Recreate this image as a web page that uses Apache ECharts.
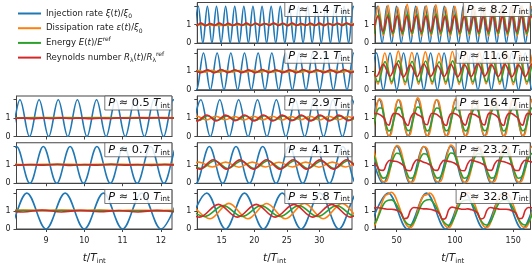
<!DOCTYPE html>
<html><head><meta charset="utf-8">
<script src="https://cdn.jsdelivr.net/npm/echarts@6/dist/echarts.min.js"></script>
<style>html,body{margin:0;padding:0;background:#fff}#c{width:532px;height:266px}</style>
</head><body><div id="c"></div>
<script>
// ---------------- DATA ----------------
const periodLabels = ['0.5','0.7','1.0','1.4','2.1','2.9','4.1','5.8','8.2','11.6','16.4','23.2','32.8'];
const colRange = [[8.23,12.29],[11.25,35.02],[31.4,164.8]];
const colTicks = [[9,10,11,12],[15,20,25,30],[50,100,150]];
const yTicks = [0,1,2];
const yLabels = [0,1];
// sampling of each series (start time, time step) per panel: [inj, dis, ene, rey]
const sampleStart = [
  [7.82,7.9,7.9,7.9],[7.88,7.9,7.9,7.9],[7.5,7.9,7.9,7.9],
  [10.7,10.5,10.5,10.4],[10.1,10.35,10.8,10.7],[10.35,9.75,10.0,9.8],[9.0,9.45,9.8,9.6],[9.8,10.3,9.45,8.7],
  [29.3,30.3,30.5,29.9],[26.9,28.2,28.4,26.9],[26.9,28.95,28.95,28.95],[26.8,26.8,26.8,26.8],[26.4,29.1333,29.1333,29.1333]
];
const sampleStep = [
  [0.25,0.5,0.5,0.25],[0.35,0.7,0.7,0.35],[0.5,0.5,0.5,0.5],
  [0.7,2.0,0.7,0.7],[1.05,1.05,1.05,1.05],[1.45,1.45,1.45,1.45],[2.05,2.05,2.05,2.05],[2.9,2.9,2.9,2.9],
  [4.1,4.1,4.1,4.1],[5.8,5.8,5.8,5.8],[8.2,2.05,2.05,2.05],[11.6,2.9,2.9,2.9],[16.4,2.7333,2.7333,2.7333]
];

const inj05=[2,0,2,0,2,0,2,0,2,0,2,0,2,0,2,0,2,0,2,0];
const dis05=[1.03,1.02,1.03,1.03,1.02,1.03,1.02,1.03,1.03,1.02,1.03];
const ene05=[1.01,1.0,1.01,1.0,1.01,1.0,1.01,1.0,1.01,1.0,1.01];
const rey05=[1.0,0.98,1.0,0.97,1.0,0.98,1.01,0.98,1.0,0.97,0.99,0.98,1.01,0.99,1.02,1.0,1.02,1.0,1.01,0.99];

const inj07=[0,2,0,2,0,2,0,2,0,2,0,2,0,2,0];
const dis07=[1.03,1.02,1.03,1.02,1.03,1.02,1.03,1.02];
const ene07=[1.01,1.0,1.01,1.0,1.01,1.0,1.01,1.0];
const rey07=[1.02,0.98,1.02,0.98,1.03,0.97,1.02,0.98,1.03,0.98,1.02,0.97,1.02,0.98,1.02];

const inj10=[2,0,2,0,2,0,2,0,2,0,2];
const dis10=[1.04,1.05,1.04,1.05,1.04,1.05,1.03,1.04,1.03,1.04,1.03];
const ene10=[1.02,1.03,1.02,1.03,1.02,1.03,1.01,1.02,1.01,1.02,1.01];
const rey10=[1.03,0.95,1.05,0.95,1.04,0.96,1.03,0.95,1.04,0.96,1.03];

const inj14=[0,2,0,2,0,2,0,2,0,2,0,2,0,2,0,2,0,2,0,2,0,2,0,2,0,2,0,2,0,2,0,2,0,2,0,2,0];
const dis14=[1.0,0.98,0.96,0.97,0.99,1.02,1.03,1.02,0.99,0.98,1.0,1.02,1.03,1.02];
const ene14=[1.04,0.97,1.05,0.96,1.04,0.97,1.05,0.97,1.04,0.96,1.05,0.97,1.04,0.97,1.05,0.96,1.04,0.97,1.05,0.97,1.04,0.96,1.05,0.97,1.04,0.97,1.05,0.96,1.04,0.97,1.05,0.97,1.04,0.96,1.05,0.97,1.04,0.97];
const rey14=[1.07,0.95,1.08,0.94,1.06,0.96,1.09,0.95,1.07,0.95,1.06,0.96,1.08,0.94,1.07,0.95,1.06,0.96,1.08,0.95,1.07,0.94,1.09,0.95,1.06,0.96,1.07,0.95,1.08,0.94,1.06,0.96,1.07,0.95,1.09,0.95,1.07,0.96];

const inj21=[2,0,2,0,2,0,2,0,2,0,2,0,2,0,2,0,2,0,2,0,2,0,2,0,2,0];
const dis21=[0.96,1.04,0.96,1.05,0.95,1.04,0.96,1.04,0.96,1.05,0.95,1.04,0.96,1.04,0.96,1.05,0.95,1.04,0.96,1.04,0.96,1.05,0.95,1.04,0.96,1.04];
const ene21=[1.06,0.95,1.06,0.94,1.07,0.95,1.06,0.95,1.06,0.94,1.07,0.95,1.06,0.95,1.06,0.94,1.07,0.95,1.06,0.95,1.06,0.94,1.07,0.95,1.06,0.95];
const rey21=[1.09,0.93,1.08,0.92,1.1,0.93,1.09,0.93,1.08,0.92,1.1,0.93,1.09,0.93,1.08,0.92,1.1,0.93,1.09,0.93,1.08,0.92,1.1,0.93,1.09,0.93];

const inj29=[0,2,0,2,0,2,0,2,0,2,0,2,0,2,0,2,0,2,0];
const dis29=[0.91,1.1,0.9,1.1,0.91,1.09,0.9,1.1,0.91,1.1,0.9,1.09,0.91,1.1,0.9,1.1,0.91,1.09,0.9,1.1];
const ene29=[1.13,0.87,1.13,0.87,1.12,0.88,1.13,0.87,1.13,0.87,1.12,0.88,1.13,0.87,1.13,0.87,1.12,0.88,1.13,0.87];
const rey29=[1.17,0.85,1.17,0.85,1.16,0.86,1.17,0.85,1.17,0.85,1.16,0.86,1.17,0.85,1.17,0.85,1.16,0.86,1.17,0.85];

const inj41=[2,0,2,0,2,0,2,0,2,0,2,0,2,0,2];
const dis41=[0.88,1.15,0.88,1.15,0.87,1.15,0.88,1.14,0.88,1.15,0.87,1.15,0.88,1.14,0.88];
const ene41=[1.22,0.8,1.22,0.8,1.21,0.8,1.22,0.8,1.22,0.8,1.21,0.8,1.22,0.8,1.22];
const rey41=[1.28,0.77,1.28,0.77,1.27,0.77,1.28,0.77,1.28,0.77,1.27,0.77,1.28,0.77,1.28];

const inj58=[0,2,0,2,0,2,0,2,0,2,0];
const dis58=[1.43,0.57,1.43,0.57,1.42,0.57,1.43,0.57,1.43,0.57,1.42];
const ene58=[1.3,0.7,1.3,0.7,1.3,0.7,1.3,0.7,1.3,0.7,1.3];
const rey58=[1.37,0.66,1.37,0.66,1.37,0.66,1.37,0.66,1.37,0.66,1.37,0.66];

const inj82=[0,2,0,2,0,2,0,2,0,2,0,2,0,2,0,2,0,2,0,2,0,2,0,2,0,2,0,2,0,2,0,2,0,2,0];
const dis82=[0.38,2.0,0.4,2.05,0.36,1.95,0.38,2.1,0.4,1.98,0.37,2.02,0.38,2.08,0.4,1.95,0.36,2.0,0.38,2.05,0.4,1.97,0.38,2.03,0.37,2.1,0.4,1.96,0.38,2.0,0.37,2.04,0.4,1.98,0.38];
const ene82=[0.5,1.55,0.52,1.56,0.5,1.52,0.5,1.58,0.52,1.54,0.5,1.55,0.5,1.57,0.52,1.53,0.5,1.55,0.5,1.56,0.52,1.53,0.5,1.55,0.5,1.58,0.52,1.54,0.5,1.55,0.5,1.56,0.52,1.54,0.5];
const rey82=[0.62,1.45,0.64,1.42,0.6,1.46,0.62,1.44,0.63,1.47,0.61,1.43,0.62,1.45,0.64,1.42,0.6,1.46,0.62,1.44,0.63,1.45,0.61,1.43,0.62,1.46,0.64,1.42,0.6,1.45,0.62,1.44,0.63,1.46,0.61];

const inj116=[0,2,0,2,0,2,0,2,0,2,0,2,0,2,0,2,0,2,0,2,0,2,0,2,0,2];
const dis116=[2.05,0.3,2.0,0.32,2.1,0.28,2.02,0.3,2.06,0.31,1.98,0.3,2.08,0.29,2.03,0.3,2.05,0.32,2.0,0.3,2.07,0.28,2.02,0.3,2.05,0.3];
const ene116=[1.55,0.42,1.53,0.43,1.58,0.41,1.54,0.42,1.56,0.43,1.52,0.42,1.57,0.41,1.54,0.42,1.55,0.43,1.53,0.42,1.56,0.41,1.54,0.42,1.55,0.42];
const rey116=[1.5,0.72,1.38,0.74,1.42,0.7,1.35,0.72,1.4,0.73,1.32,0.72,1.38,0.7,1.36,0.72,1.42,0.74,1.35,0.72,1.38,0.7,1.34,0.72,1.4,0.72];

const inj164=[0,2,0,2,0,2,0,2,0,2,0,2,0,2,0,2,0,2,0];
const dis164=[0.15,0.85,1.7,
 2.05,1.9,1.15,0.35,0.05,0.15,0.9,1.75, 2.0,1.85,1.1,0.35,0.08,0.12,0.85,1.7,
 2.1,1.9,1.2,0.4,0.05,0.15,0.85,1.75, 2.0,1.85,1.15,0.35,0.06,0.14,0.8,1.7,
 2.05,1.9,1.15,0.38,0.05,0.15,0.88,1.72, 1.95,1.85,1.12,0.35,0.07,0.12,0.85,1.7,
 2.05,1.9,1.18,0.4,0.05,0.14,0.85,1.75, 2.0,1.88,1.15,0.36,0.06,0.15,0.86,1.7, 2.02,1.9];
const ene164=[0.4,0.85,1.35,
 1.55,1.55,1.1,0.55,0.3,0.4,0.85,1.35, 1.58,1.52,1.08,0.55,0.32,0.38,0.82,1.33,
 1.6,1.56,1.12,0.58,0.3,0.4,0.85,1.36, 1.55,1.52,1.1,0.55,0.31,0.4,0.83,1.34,
 1.57,1.55,1.1,0.56,0.3,0.4,0.86,1.35, 1.53,1.5,1.08,0.54,0.32,0.38,0.84,1.34,
 1.58,1.55,1.12,0.57,0.3,0.4,0.85,1.36, 1.55,1.53,1.1,0.55,0.31,0.4,0.85,1.35, 1.56,1.54];
const rey164=[1.0,1.25,1.25,
 1.2,1.12,1.0,0.7,0.62,1.0,1.25,1.25, 1.22,1.1,0.98,0.72,0.6,0.98,1.22,1.28,
 1.18,1.12,1.02,0.7,0.64,1.02,1.26,1.24, 1.2,1.1,0.98,0.68,0.6,1.0,1.24,1.26,
 1.22,1.14,1.0,0.72,0.62,0.98,1.25,1.22, 1.18,1.1,1.0,0.7,0.63,1.02,1.27,1.25,
 1.2,1.12,0.98,0.7,0.6,1.0,1.24,1.26, 1.21,1.1,1.0,0.71,0.62,1.0,1.25,1.24, 1.2,1.12];

const inj232=[2,0,2,0,2,0,2,0,2,0,2,0,2,0];
const dis232=[1.95,1.85,1.2,0.45,0.08,0.12,0.7,1.6, 2.05,1.9,1.22,0.45,0.06,0.12,0.72,1.62,
 2.0,1.88,1.18,0.44,0.08,0.1,0.68,1.58, 2.08,1.92,1.22,0.46,0.06,0.12,0.7,1.6,
 1.98,1.86,1.2,0.45,0.07,0.11,0.7,1.6, 2.04,1.9,1.2,0.44,0.06,0.12,0.71,1.6, 2.0,1.88];
const ene232=[1.6,1.55,1.1,0.55,0.28,0.35,0.8,1.35, 1.63,1.57,1.12,0.56,0.27,0.34,0.8,1.36,
 1.6,1.55,1.1,0.55,0.28,0.35,0.78,1.34, 1.64,1.58,1.12,0.56,0.27,0.35,0.8,1.36,
 1.6,1.55,1.1,0.55,0.28,0.34,0.8,1.35, 1.62,1.56,1.1,0.55,0.27,0.35,0.8,1.35, 1.61,1.55];
const rey232=[1.15,1.08,0.98,0.72,0.7,1.05,1.25,1.2, 1.18,1.1,0.96,0.7,0.68,1.06,1.28,1.22,
 1.14,1.08,0.98,0.73,0.7,1.04,1.24,1.2, 1.17,1.1,0.97,0.7,0.68,1.05,1.26,1.21,
 1.15,1.08,0.98,0.72,0.7,1.05,1.25,1.2, 1.16,1.09,0.98,0.71,0.69,1.05,1.25,1.2, 1.15,1.08];

const inj328=[0,2,0,2,0,2,0,2,0,2,0];
const dis328=[0.08,0.3,0.85,1.45,1.85,
 1.95,2.05,1.88,1.45,0.95,0.45,0.15,0.08,0.3,0.85,1.45,1.85,
 1.9,2.0,1.85,1.42,0.95,0.45,0.15,0.07,0.3,0.88,1.45,1.88,
 1.95,2.02,1.9,1.45,0.95,0.45,0.14,0.08,0.3,0.85,1.45,1.85,
 1.9,2.0,1.85,1.45,0.95,0.45,0.15,0.08,0.3,0.85,1.45,1.85];
const ene328=[0.22,0.38,0.75,1.2,1.5,
 1.6,1.62,1.5,1.2,0.85,0.5,0.28,0.22,0.38,0.75,1.2,1.5,
 1.62,1.64,1.5,1.22,0.85,0.5,0.28,0.2,0.38,0.76,1.22,1.52,
 1.6,1.63,1.52,1.2,0.85,0.5,0.27,0.22,0.38,0.75,1.2,1.5,
 1.6,1.62,1.5,1.2,0.85,0.5,0.28,0.22,0.38,0.75,1.2,1.5];
const rey328=[1.05,1.2,1.18,1.15,1.12,
 1.1,1.1,1.08,1.02,0.9,0.58,0.62,1.05,1.2,1.18,1.15,1.12,
 1.12,1.1,1.06,1.0,0.88,0.55,0.6,1.08,1.22,1.18,1.14,1.1,
 1.1,1.12,1.08,1.02,0.9,0.56,0.62,1.05,1.2,1.16,1.14,1.1,
 1.1,1.1,1.08,1.0,0.9,0.58,0.6,1.05,1.2,1.18,1.15,1.12];

const panelValues = [
  [inj05,dis05,ene05,rey05],[inj07,dis07,ene07,rey07],[inj10,dis10,ene10,rey10],
  [inj14,dis14,ene14,rey14],[inj21,dis21,ene21,rey21],[inj29,dis29,ene29,rey29],[inj41,dis41,ene41,rey41],[inj58,dis58,ene58,rey58],
  [inj82,dis82,ene82,rey82],[inj116,dis116,ene116,rey116],[inj164,dis164,ene164,rey164],[inj232,dis232,ene232,rey232],[inj328,dis328,ene328,rey328]
];
const seriesNames = ['inj','dis','ene','rey'];

// ---------------- LAYOUT / STYLE ----------------
const panelCol = [0,0,0,1,1,1,1,1,2,2,2,2,2];
const panelRow = [2,3,4,0,1,2,3,4,0,1,2,3,4];
const colLeft = [16.5,197.3,375];
const colWidth = [155.5,154.7,155.5];
const rowTop = [2.5,49.25,96,142.75,189.5];
const rowH = 40.5;
const colors = ['#1f77b4','#ff7f0e','#2ca02c','#d62728'];
const axisCol = '#444';
const FONT = 'DejaVu Sans';

function toXY(t0, dt, vals){ return vals.map((v,i)=>[t0+i*dt, v]); }

const grids=[], xAxes=[], yAxes=[], series=[], titles=[];
periodLabels.forEach((lab,k)=>{
  const c=panelCol[k], r=panelRow[k];
  grids.push({left:colLeft[c], top:rowTop[r], width:colWidth[c], height:rowH, show:true, borderColor:axisCol, borderWidth:1, backgroundColor:'transparent'});
  const xa = {gridIndex:k, type:'value', min:colRange[c][0], max:colRange[c][1],
    axisLine:{show:true, onZero:false, lineStyle:{color:axisCol,width:1}},
    axisTick:{show:true, inside:false, length:3, customValues:colTicks[c], lineStyle:{color:axisCol,width:1}},
    axisLabel:{show:r===4, customValues:colTicks[c], fontSize:8, color:'#222', margin:8, fontFamily:FONT},
    splitLine:{show:false}};
  if(r===4){
    xa.name='{i|t}/{i|T}{s|int}'; xa.nameLocation='middle'; xa.nameGap=23;
    xa.nameTextStyle={fontSize:10.5, color:'#222', fontFamily:FONT, lineHeight:13, rich:{
      i:{fontStyle:'italic', fontSize:10.5, fontFamily:FONT, color:'#222', lineHeight:13},
      s:{fontSize:7, fontFamily:FONT, color:'#222', verticalAlign:'bottom', lineHeight:6}}};
  }
  xAxes.push(xa);
  yAxes.push({gridIndex:k, type:'value', min:0, max:2.2,
    axisLine:{show:true, onZero:false, lineStyle:{color:axisCol,width:1}},
    axisTick:{show:true, inside:false, length:3, customValues:yTicks, lineStyle:{color:axisCol,width:1}},
    axisLabel:{show:true, customValues:yLabels, fontSize:8, color:'#222', margin:6, fontFamily:FONT},
    splitLine:{show:false}});
  panelValues[k].forEach((vals,s)=>{
    series.push({type:'line', name:seriesNames[s], xAxisIndex:k, yAxisIndex:k,
      data:toXY(sampleStart[k][s], sampleStep[k][s], vals),
      smooth:0.36, symbol:'none', showSymbol:false, clip:true, silent:true, animation:false,
      lineStyle:{color:colors[s], width:1.6}, itemStyle:{color:colors[s]},
      emphasis:{disabled:true}, z:2+s});
  });
  titles.push({text:'{i|P} ≈ '+lab+' {i|T}{s|int}', right:532-(colLeft[c]+colWidth[c]), top:rowTop[r]-0.5,
    padding:[1,2,0,4], backgroundColor:'rgba(255,255,255,0.85)', borderColor:'#555', borderWidth:0.8, z:10,
    textStyle:{fontSize:11.3, color:'#111', fontWeight:'normal', fontFamily:FONT, lineHeight:13.5, rich:{
      i:{fontStyle:'italic', fontSize:11.3, color:'#111', fontFamily:FONT, lineHeight:13.5},
      s:{fontSize:7.5, color:'#111', fontFamily:FONT, verticalAlign:'bottom', lineHeight:7}}}});
});

const legendText = {
  inj:'Injection rate {m|ξ}({m|t})/{m|ξ}{sb|0}',
  dis:'Dissipation rate {m|ε}({m|t})/{m|ξ}{sb|0}',
  ene:'Energy {m|E}({m|t})/{m|E}{sp|ref}',
  rey:'Reynolds number {m|R}{sb|λ}({m|t})/{m|R}{sb|λ}{sp|ref}'
};

const chart = echarts.init(document.getElementById('c'), null, {renderer:'canvas'});
chart.setOption({
  animation:false,
  backgroundColor:'#fff',
  textStyle:{fontFamily:FONT},
  title:titles,
  legend:{data:seriesNames, orient:'vertical', left:18, top:7.5, padding:0, itemGap:2.7,
    itemWidth:23, itemHeight:2, icon:'rect', selectedMode:false,
    formatter:n=>legendText[n],
    textStyle:{fontSize:8.6, color:'#222', fontFamily:FONT, lineHeight:12, height:12, rich:{
      m:{fontStyle:'italic', fontSize:8.6, fontFamily:FONT, color:'#222', lineHeight:12},
      sb:{fontSize:6, fontFamily:FONT, color:'#222', verticalAlign:'bottom', lineHeight:5},
      sp:{fontSize:6, fontFamily:FONT, color:'#222', verticalAlign:'top', lineHeight:5}}}},
  grid:grids, xAxis:xAxes, yAxis:yAxes, series:series
});
</script></body></html>
